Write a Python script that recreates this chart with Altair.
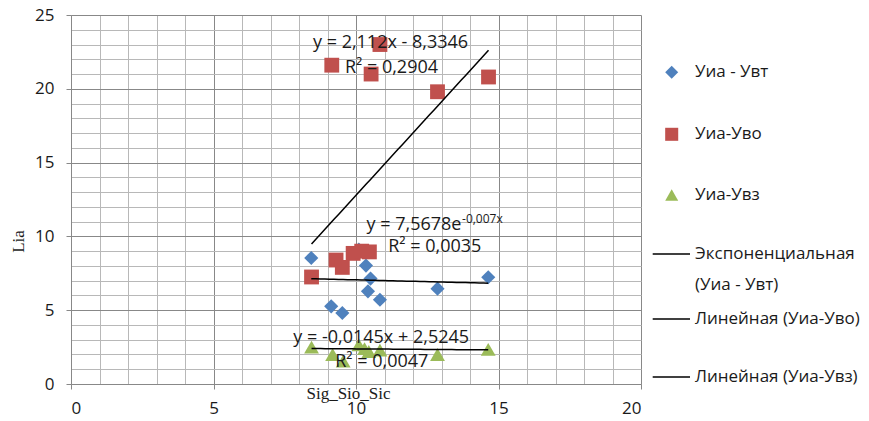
import altair as alt
import numpy as np
import pandas as pd

# Уиа - Увт
vt_x = [8.43, 9.13, 9.52, 10.10, 10.35, 10.42, 10.51, 10.84, 12.86, 14.64]
vt_y = [8.54, 5.26, 4.81, 9.10, 8.02, 6.28, 7.14, 5.71, 6.46, 7.23]

# Уиа-Уво
vo_x = [8.44, 9.15, 9.30, 9.52, 9.90, 10.20, 10.47, 10.53, 10.84, 12.86, 14.65]
vo_y = [7.25, 21.6, 8.40, 7.90, 8.85, 9.00, 8.95, 21.0, 23.0, 19.8, 20.8]

# Уиа-Увз
vz_x = [8.44, 9.18, 9.55, 10.10, 10.30, 10.45, 10.84, 12.86, 14.64]
vz_y = [2.50, 2.00, 1.55, 2.65, 2.40, 2.20, 2.30, 2.00, 2.35]

# trend line coefficients
exp_a, exp_b = 7.5678, -0.007
lin_vo = (2.112, -8.3346)
lin_vz = (-0.0145, 2.5245)

FONT = "Open Sans"
SERIF = "Liberation Serif"
BLUE, RED, GREEN = "#4F81BD", "#C0504D", "#9BBB59"
TXT = "#1a1a1a"
MAJOR, MINOR = "#888888", "#b8b8b8"

W, H = 570, 369

xs = alt.Scale(domain=[0, 20], nice=False, zero=False)
ys = alt.Scale(domain=[0, 25], nice=False, zero=False)

major5 = "datum.value % 5 === 0"


def make_axis(n, title, **kw):
    return alt.Axis(
        values=list(range(0, n + 1)),
        tickCount=100,
        labelExpr=f"{major5} ? format(datum.value, 'd') : ''",
        labelOverlap=False,
        grid=True,
        gridColor=alt.condition(major5, alt.value(MAJOR), alt.value(MINOR)),
        gridWidth=1,
        domainColor=MAJOR,
        tickColor=MAJOR,
        tickOpacity=alt.condition(major5, alt.value(1), alt.value(0)),
        tickSize=5,
        labelFont=FONT, labelFontSize=17, labelColor=TXT,
        title=title, titleFont=SERIF, titleFontSize=17, titleFontWeight="normal",
        titleColor=TXT, titleBaseline="middle", titleAlign="center",
        **kw,
    )


xaxis = make_axis(20, "Sig_Sio_Sic", labelPadding=11, titleX=277, titleY=9)
yaxis = make_axis(25, "Lia", labelPadding=12, titleX=-53, titleY=226)

X = lambda f: alt.X(f, type="quantitative", scale=xs, axis=xaxis)
Y = lambda f: alt.Y(f, type="quantitative", scale=ys, axis=yaxis)


def points(xv, yv, shape, color, size):
    df = pd.DataFrame({"x": xv, "y": yv})
    return alt.Chart(df).mark_point(
        shape=shape, filled=True, color=color, size=size, opacity=1, strokeWidth=0
    ).encode(x=X("x"), y=Y("y"))


def trend(xv, fn):
    gx = np.linspace(min(xv), max(xv), 40)
    df = pd.DataFrame({"x": gx, "y": fn(gx)})
    return alt.Chart(df).mark_line(color="black", strokeWidth=1.5).encode(
        x=X("x"), y=Y("y"), order="x:Q"
    )


def note(text, x, y, size=18, dy=0):
    return alt.Chart(pd.DataFrame({"a": [0]})).mark_text(
        text=text, align="left", baseline="middle", font=FONT, fontSize=size,
        color=TXT, dy=dy
    ).encode(x=alt.datum(x, scale=xs), y=alt.datum(y, scale=ys))


one = pd.DataFrame({"a": [0]})


def leg_symbol(shape, color, px, py):
    return alt.Chart(one).mark_point(
        shape=shape, filled=True, color=color, size=170, opacity=1, strokeWidth=0
    ).encode(x=alt.value(px), y=alt.value(py))


def leg_text(text, px, py):
    return alt.Chart(one).mark_text(
        text=text, align="left", baseline="middle", font=FONT, fontSize=17, color=TXT
    ).encode(x=alt.value(px), y=alt.value(py))


def leg_line(px1, px2, py):
    return alt.Chart(one).mark_rule(color="black", strokeWidth=1.5).encode(
        x=alt.value(px1), x2=alt.value(px2), y=alt.value(py)
    )


layers = [
    points(vt_x, vt_y, "diamond", BLUE, 200),
    points(vo_x, vo_y, "square", RED, 220),
    points(vz_x, vz_y, "triangle-up", GREEN, 220),
    trend(vt_x, lambda x: exp_a * np.exp(exp_b * x)),
    trend(vo_x, lambda x: lin_vo[0] * x + lin_vo[1]),
    trend(vz_x, lambda x: lin_vz[0] * x + lin_vz[1]),
    note("y = 2,112x - 8,3346", 8.49, 23.12),
    note("R² = 0,2904", 9.61, 21.42),
    note("y = 7,5678e", 10.37, 10.75),
    note("-0,007x", 13.72, 10.75, size=12, dy=-6),
    note("R² = 0,0035", 11.13, 9.26),
    note("y = -0,0145x + 2,5245", 7.8, 3.12),
    note("R² = 0,0047", 9.27, 1.49),
    # legend
    leg_symbol("diamond", BLUE, 600.7, 57.3),
    leg_text("Уиа - Увт", 624, 57.3),
    leg_symbol("square", RED, 600.7, 119.3),
    leg_text("Уиа-Уво", 624, 119.3),
    leg_symbol("triangle-up", GREEN, 600.7, 180),
    leg_text("Уиа-Увз", 624, 180),
    leg_line(581.7, 619, 239),
    leg_text("Экспоненциальная", 624, 239),
    leg_text("(Уиа - Увт)", 624, 270),
    leg_line(581.7, 619, 304),
    leg_text("Линейная (Уиа-Уво)", 624, 304),
    leg_line(581.7, 619, 362),
    leg_text("Линейная (Уиа-Увз)", 624, 362),
]

chart = alt.layer(*layers).properties(
    width=W, height=H,
    autosize=alt.AutoSizeParams(type="none"),
    padding={"left": 71, "top": 15, "right": 228, "bottom": 37},
    background="white",
).configure_view(stroke=None)

chart.save("out.html", embed_options={"renderer": "svg", "actions": False})
